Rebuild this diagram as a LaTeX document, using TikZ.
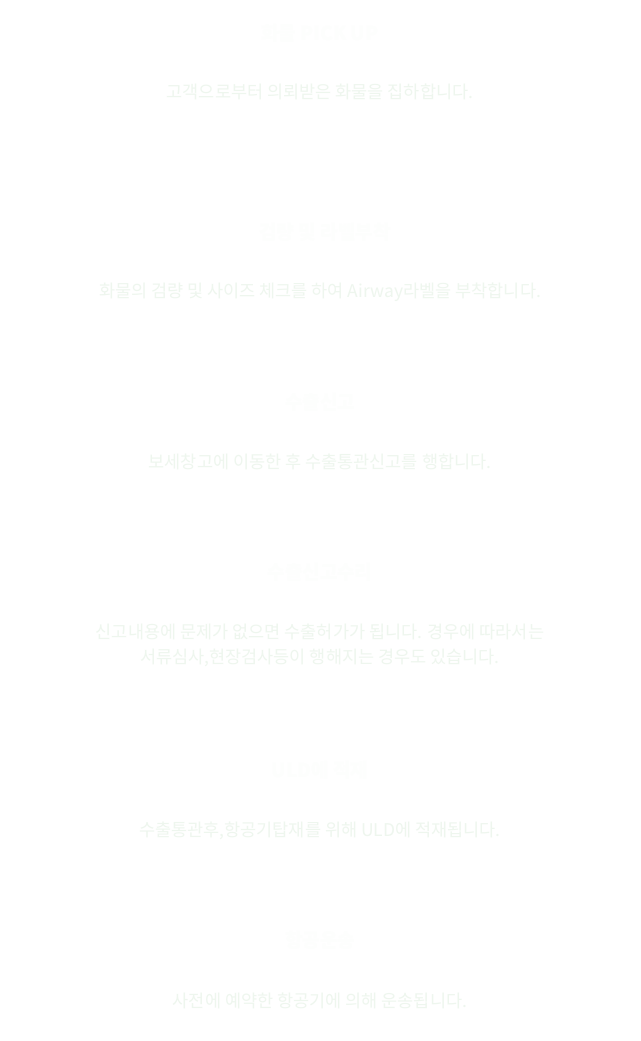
\documentclass[tikz,border=0pt]{standalone}
\usepackage{fontspec}
\setmainfont{Noto Sans CJK KR}
\definecolor{titlecol}{RGB}{253,254,253}
\definecolor{desccol}{RGB}{238,246,238}
\begin{document}
\begin{tikzpicture}[x=1pt,y=-1pt,
  steptitle/.style={text=titlecol,font=\fontsize{19}{22}\selectfont\bfseries,inner sep=0pt,anchor=center},
  stepdesc/.style={text=desccol,font=\fontsize{17.5}{25}\selectfont,inner sep=0pt,anchor=center,align=center}]
\fill[white] (0,0) rectangle (640,1041);
\useasboundingbox (0,0) rectangle (640,1041);
\node[steptitle] (t1) at (320,33) {화물 PICK UP};
\node[stepdesc] (d1) at (320,92) {고객으로부터 의뢰받은 화물을 집하합니다.};
\node[steptitle] (t2) at (325,232) {검량 및 라벨부착};
\node[stepdesc] (d2) at (320,292) {화물의 검량 및 사이즈 체크를 하여 Airway라벨을 부착합니다.};
\node[steptitle] (t3) at (320,402) {수출신고};
\node[stepdesc] (d3) at (320,462) {보세창고에 이동한 후 수출통관신고를 행합니다.};
\node[steptitle] (t4) at (320,572) {수출신고수리};
\node[stepdesc] (d4) at (320,645) {신고내용에 문제가 없으면 수출허가가 됩니다. 경우에 따라서는\\서류심사,현장검사등이 행해지는 경우도 있습니다.};
\node[steptitle] (t5) at (320,770) {ULD에 적재};
\node[stepdesc] (d5) at (320,831) {수출통관후,항공기탑재를 위해 ULD에 적재됩니다.};
\node[steptitle] (t6) at (320,940) {항공운송};
\node[stepdesc] (d6) at (320,1001) {사전에 예약한 항공기에 의해 운송됩니다.};
\end{tikzpicture}
\end{document}
